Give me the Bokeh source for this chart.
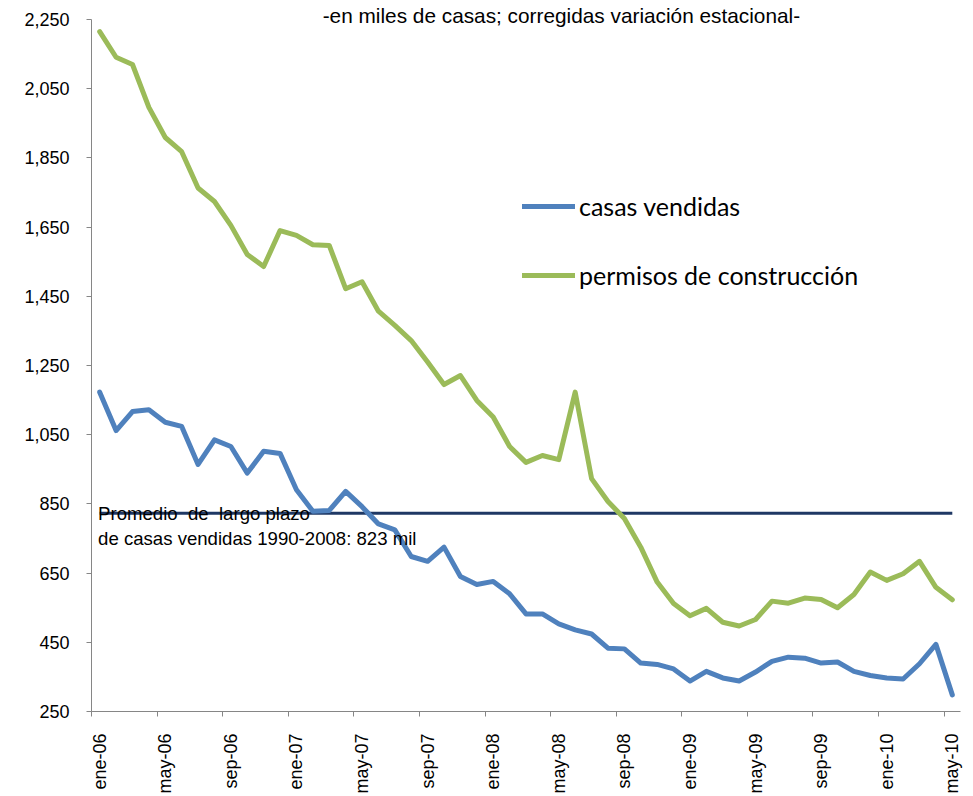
from bokeh.plotting import figure
from bokeh.models import (Range1d, LinearAxis, FixedTicker, NumeralTickFormatter,
                          CustomJSTickFormatter, Legend, LegendItem, Label, ColumnDataSource)
from bokeh.embed import file_html
from bokeh.resources import INLINE
from math import pi

# ---------------- data ----------------
TICK_LABELS = ["ene-06", "may-06", "sep-06", "ene-07", "may-07", "sep-07", "ene-08",
               "may-08", "sep-08", "ene-09", "may-09", "sep-09", "ene-10", "may-10"]

casas_vendidas = [1173, 1062, 1117, 1122, 1086, 1074, 964, 1035, 1016, 939,
                  1002, 996, 891, 829, 831, 886, 842, 792, 775, 698,
                  684, 725, 640, 617, 626, 590, 532, 532, 503, 486,
                  474, 433, 431, 390, 386, 373, 338, 366, 347, 338,
                  364, 395, 407, 404, 390, 393, 366, 354, 347, 344,
                  388, 444, 298]

permisos_construccion = [2215, 2141, 2120, 1996, 1909, 1868, 1763, 1724, 1655, 1571,
                         1536, 1640, 1626, 1599, 1597, 1472, 1492, 1407, 1366, 1322,
                         1260, 1195, 1221, 1149, 1101, 1016, 970, 990, 978, 1173,
                         923, 857, 808, 725, 624, 562, 527, 548, 508, 497,
                         516, 569, 563, 578, 574, 550, 588, 653, 629, 648,
                         684, 609, 573]

PROMEDIO = 823
Y_TICKS = [250, 450, 650, 850, 1050, 1250, 1450, 1650, 1850, 2050, 2250]

TITLE = "-en miles de casas; corregidas variación estacional-"
NOTE = "Promedio \u00a0de \u00a0largo plazo\nde casas vendidas 1990-2008: 823 mil"

# ---------------- plot ----------------
n = len(casas_vendidas)
idx = list(range(n))
src = ColumnDataSource(dict(x=idx, casas=casas_vendidas, permisos=permisos_construccion))

FONT = "Liberation Sans"
GREY = "#868686"

# headroom above the top tick so that the subtitle is drawn inside the frame
Y_TOP = Y_TICKS[-1] + 55

p = figure(width=973, height=796, output_backend="svg", toolbar_location=None,
           x_range=Range1d(-0.5, n - 0.5), y_range=Range1d(Y_TICKS[0], Y_TOP),
           x_axis_location=None, y_axis_location=None,
           min_border_left=91, min_border_right=13, min_border_top=0, min_border_bottom=85)
p.outline_line_color = None
p.xgrid.visible = False
p.ygrid.visible = False
p.background_fill_color = "white"
p.border_fill_color = "white"

# y axis
yax = LinearAxis(ticker=FixedTicker(ticks=Y_TICKS), formatter=NumeralTickFormatter(format="0,0"),
                 bounds=(Y_TICKS[0], Y_TICKS[-1]),
                 axis_line_color=GREY, major_tick_line_color=GREY, minor_tick_line_color=None,
                 major_tick_out=5, major_tick_in=0, major_label_standoff=17,
                 major_label_text_font=FONT, major_label_text_font_size="18px",
                 major_label_text_color="black")
p.add_layout(yax, "left")

# x axis: tick marks at category boundaries (no labels)
boundaries = [i - 0.5 for i in range(0, n, 4)]
xax_ticks = LinearAxis(ticker=FixedTicker(ticks=boundaries, minor_ticks=[]),
                       formatter=CustomJSTickFormatter(code="return ''"),
                       axis_line_color=GREY, major_tick_line_color=GREY,
                       minor_tick_line_color=None, major_tick_out=5, major_tick_in=0,
                       major_label_standoff=0)
p.add_layout(xax_ticks, "below")

# x axis: labels centred on categories
centers = list(range(0, n, 4))
xax_labels = LinearAxis(ticker=FixedTicker(ticks=centers, minor_ticks=[]),
                        major_label_overrides={c: lab for c, lab in zip(centers, TICK_LABELS)},
                        axis_line_color=None, major_tick_line_color=None,
                        minor_tick_line_color=None, major_tick_out=0, major_tick_in=0,
                        major_label_standoff=17, major_label_orientation=pi / 2,
                        major_label_text_font=FONT, major_label_text_font_size="18px",
                        major_label_text_color="black")
p.add_layout(xax_labels, "below")

# average line
p.line(x=[idx[0], idx[-1]], y=[PROMEDIO, PROMEDIO], line_color="#1F3864", line_width=3)

# series
r_blue = p.line("x", "casas", source=src, line_color="#4F81BD", line_width=5,
                line_join="round", line_cap="round")
r_green = p.line("x", "permisos", source=src, line_color="#9BBB59", line_width=5,
                 line_join="round", line_cap="round")

# legend
legend = Legend(items=[LegendItem(label="casas vendidas", renderers=[r_blue]),
                       LegendItem(label="permisos de construcción", renderers=[r_green])],
                location=(431, 421), orientation="vertical",
                glyph_width=53, glyph_height=30, label_height=30, label_standoff=4,
                spacing=39, padding=0, margin=0,
                border_line_color=None, background_fill_alpha=0,
                label_text_font="Lato", label_text_font_size="25px",
                label_text_color="black")
p.add_layout(legend)

# title text
p.add_layout(Label(x=13.6, y=Y_TICKS[-1], y_offset=4, text=TITLE, text_baseline="middle",
                   text_align="left", text_font=FONT, text_font_size="20.8px",
                   text_color="black"))

# note text
p.add_layout(Label(x=-0.1, y=PROMEDIO, y_offset=10, text=NOTE, text_baseline="top",
                   text_align="left", text_font=FONT, text_font_size="18.6px",
                   text_color="black", text_line_height=1.2))

open("out.html", "w").write(file_html(p, INLINE))
